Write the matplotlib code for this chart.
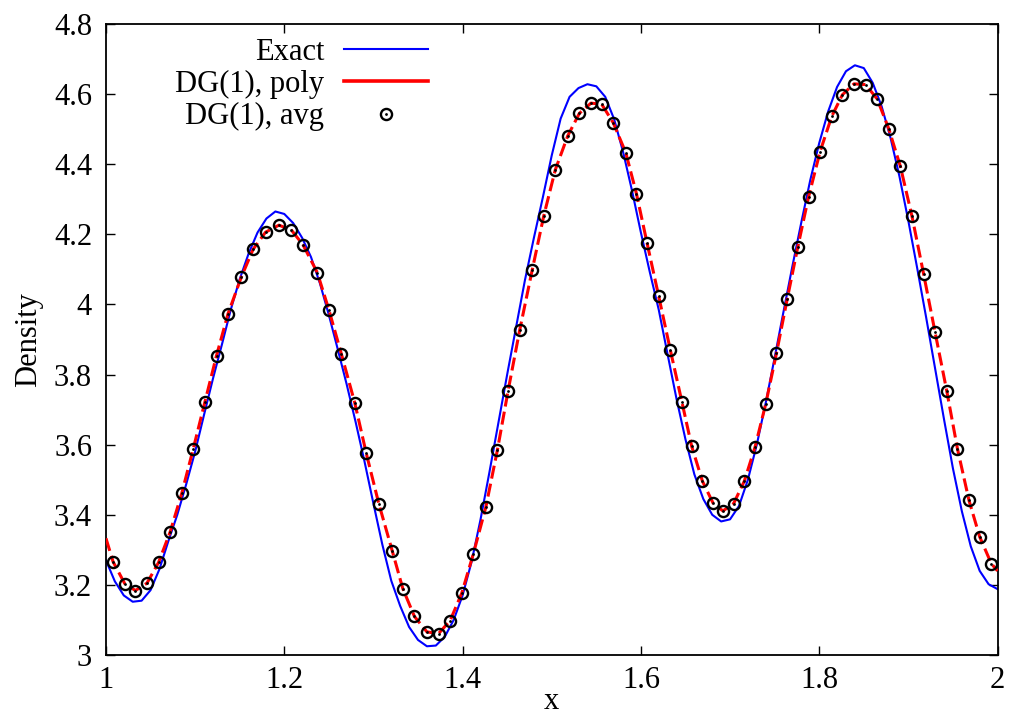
import matplotlib
matplotlib.use("Agg")
import matplotlib.pyplot as plt
from matplotlib.lines import Line2D
from matplotlib.legend_handler import HandlerTuple
from matplotlib.ticker import FormatStrFormatter

# DG(1) cell averages (cell centre, value)
avg_x = [1.008, 1.021, 1.033, 1.046, 1.059, 1.072, 1.085, 1.098, 1.111, 1.124,
         1.137, 1.152, 1.165, 1.179, 1.194, 1.208, 1.221, 1.237, 1.250, 1.264,
         1.279, 1.292, 1.306, 1.321, 1.333, 1.346, 1.360, 1.373, 1.386, 1.399,
         1.412, 1.426, 1.439, 1.451, 1.464, 1.478, 1.491, 1.504, 1.518, 1.531,
         1.544, 1.556, 1.569, 1.583, 1.595, 1.607, 1.620, 1.633, 1.646, 1.657,
         1.669, 1.681, 1.692, 1.704, 1.716, 1.728, 1.740, 1.752, 1.764, 1.776,
         1.788, 1.801, 1.814, 1.826, 1.839, 1.852, 1.865, 1.878, 1.891, 1.904,
         1.917, 1.930, 1.943, 1.955, 1.968, 1.980, 1.993]
avg_y = [3.266, 3.204, 3.184, 3.205, 3.264, 3.351, 3.461, 3.589, 3.722, 3.854,
         3.974, 4.079, 4.157, 4.206, 4.226, 4.212, 4.170, 4.091, 3.985, 3.859,
         3.720, 3.575, 3.432, 3.298, 3.189, 3.110, 3.066, 3.061, 3.098, 3.176,
         3.288, 3.421, 3.584, 3.753, 3.926, 4.097, 4.252, 4.384, 4.481, 4.545,
         4.574, 4.571, 4.518, 4.433, 4.316, 4.174, 4.023, 3.870, 3.722, 3.595,
         3.496, 3.433, 3.411, 3.432, 3.496, 3.593, 3.716, 3.860, 4.014, 4.164,
         4.306, 4.436, 4.536, 4.598, 4.629, 4.627, 4.586, 4.501, 4.394, 4.252,
         4.088, 3.920, 3.754, 3.589, 3.441, 3.337, 3.261]

# DG(1) polynomial values at the two domain ends
poly_ends_x = [1.0, 2.0]
poly_ends_y = [3.333, 3.240]

# exact solution
exact_x = [1.00, 1.01, 1.02, 1.03, 1.04, 1.05, 1.06, 1.07, 1.08, 1.09,
           1.10, 1.11, 1.12, 1.13, 1.14, 1.15, 1.16, 1.17, 1.18, 1.19,
           1.20, 1.21, 1.22, 1.23, 1.24, 1.25, 1.26, 1.27, 1.28, 1.29,
           1.30, 1.31, 1.32, 1.33, 1.34, 1.35, 1.36, 1.37, 1.38, 1.39,
           1.40, 1.41, 1.42, 1.43, 1.44, 1.45, 1.46, 1.47, 1.48, 1.49,
           1.50, 1.51, 1.52, 1.53, 1.54, 1.55, 1.56, 1.57, 1.58, 1.59,
           1.60, 1.61, 1.62, 1.63, 1.64, 1.65, 1.66, 1.67, 1.68, 1.69,
           1.70, 1.71, 1.72, 1.73, 1.74, 1.75, 1.76, 1.77, 1.78, 1.79,
           1.80, 1.81, 1.82, 1.83, 1.84, 1.85, 1.86, 1.87, 1.88, 1.89,
           1.90, 1.91, 1.92, 1.93, 1.94, 1.95, 1.96, 1.97, 1.98, 1.99, 2.00]
exact_y = [3.270, 3.210, 3.170, 3.152, 3.155, 3.185, 3.245, 3.325, 3.400, 3.487,
           3.580, 3.685, 3.788, 3.885, 3.985, 4.072, 4.145, 4.205, 4.245, 4.265,
           4.258, 4.232, 4.190, 4.135, 4.060, 3.970, 3.872, 3.772, 3.665, 3.552,
           3.432, 3.315, 3.212, 3.140, 3.080, 3.043, 3.025, 3.027, 3.052, 3.100,
           3.170, 3.265, 3.385, 3.520, 3.660, 3.800, 3.935, 4.070, 4.190, 4.305,
           4.425, 4.530, 4.592, 4.617, 4.628, 4.622, 4.592, 4.528, 4.435, 4.325,
           4.205, 4.092, 3.985, 3.857, 3.730, 3.615, 3.515, 3.445, 3.400, 3.381,
           3.387, 3.425, 3.500, 3.600, 3.719, 3.848, 3.980, 4.110, 4.235, 4.355,
           4.460, 4.550, 4.620, 4.665, 4.682, 4.674, 4.632, 4.565, 4.475, 4.365,
           4.238, 4.102, 3.962, 3.817, 3.672, 3.532, 3.410, 3.310, 3.240, 3.202, 3.188]

x_ticks = [1.0, 1.2, 1.4, 1.6, 1.8, 2.0]
y_ticks = [3.0, 3.2, 3.4, 3.6, 3.8, 4.0, 4.2, 4.4, 4.6, 4.8]
labels = ["Exact", "DG(1), poly", "DG(1), avg"]

plt.rcParams['font.family'] = ['Liberation Serif', 'DejaVu Serif']
fs = 22

fig = plt.figure(figsize=(10.12, 7.18), dpi=100)
ax = fig.add_axes([0.1047, 0.0877, 0.881, 0.879])

# exact solution
ax.plot(exact_x, exact_y, color='#0000ff', lw=1.5, zorder=2)

# DG(1) polynomial, drawn through end values and cell averages
poly_x = [poly_ends_x[0]] + avg_x + [poly_ends_x[1]]
poly_y = [poly_ends_y[0]] + avg_y + [poly_ends_y[1]]
ax.plot(poly_x, poly_y, color='#ff0000', lw=2.2, dashes=(4.3, 1.7), zorder=3)

# cell averages: ring with a dot in the middle
h_ring, = ax.plot(avg_x, avg_y, ls='none', marker='o', ms=8, mfc='none',
                  mec='black', mew=1.7, zorder=4)
h_dot, = ax.plot(avg_x, avg_y, ls='none', marker='o', ms=2, mfc='black',
                 mec='black', mew=0, zorder=5)

ax.set_xlim(1, 2)
ax.set_ylim(3, 4.8)
ax.set_xticks(x_ticks)
ax.set_yticks(y_ticks)
ax.xaxis.set_major_formatter(FormatStrFormatter('%g'))
ax.yaxis.set_major_formatter(FormatStrFormatter('%g'))
ax.tick_params(direction='in', length=6.5, width=1, top=True, right=True,
               labelsize=fs, colors='black')
ax.tick_params(axis='y', pad=10)
ax.tick_params(axis='x', pad=8)
for sp in ax.spines.values():
    sp.set_linewidth(1.3)

ax.set_xlabel('x', fontsize=fs, labelpad=-6)
ax.set_ylabel('Density', fontsize=fs, labelpad=8)

# gnuplot-like key: text on the left, sample on the right
h_exact = Line2D([], [], color='#0000ff', lw=1.5)
h_poly = Line2D([], [], color='#ff0000', lw=2.6)
leg = ax.legend([h_exact, h_poly, (h_ring, h_dot)], labels,
                handler_map={tuple: HandlerTuple(ndivide=1)}, numpoints=1,
                loc='upper right', bbox_to_anchor=(428 / 1012, 1 - 38 / 718),
                bbox_transform=fig.transFigure, frameon=False, markerfirst=False,
                fontsize=fs, handlelength=2.75, handletextpad=0.65,
                labelspacing=0.1, borderpad=0, borderaxespad=0)

fig.savefig('out.png', dpi=100)
